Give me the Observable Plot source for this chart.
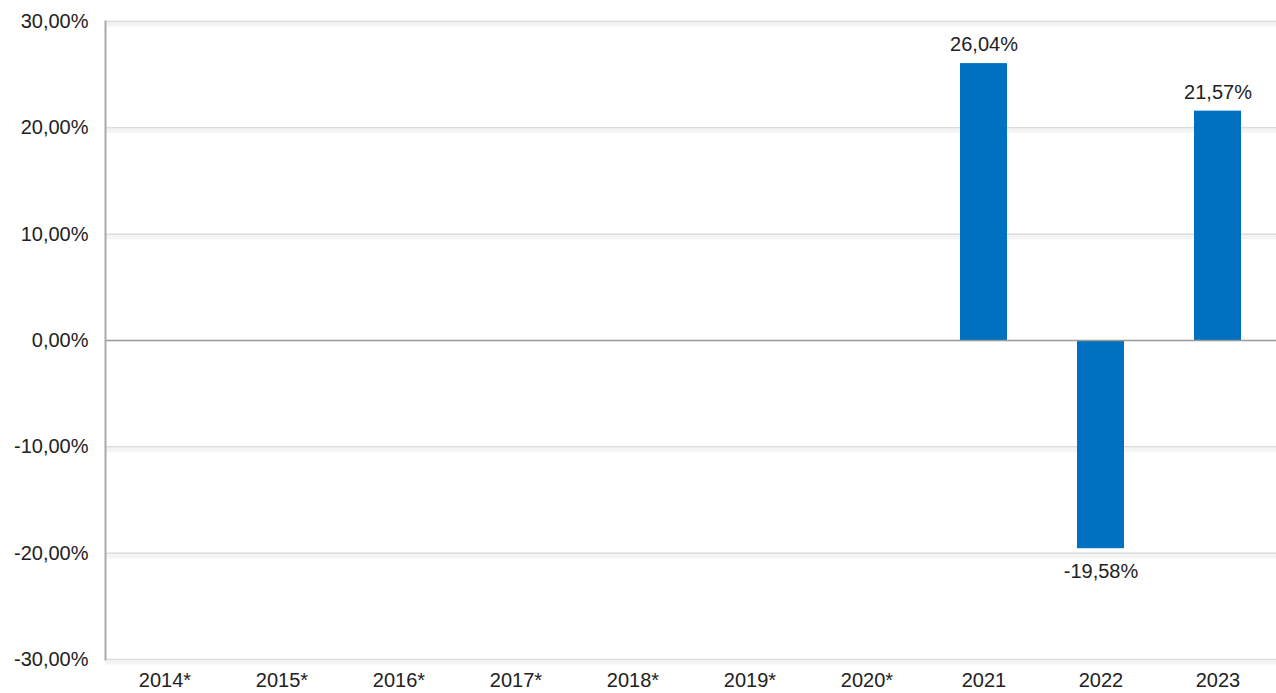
<!DOCTYPE html>
<html><head><meta charset="utf-8">
<script src="https://cdn.jsdelivr.net/npm/d3@7"></script>
<script src="https://cdn.jsdelivr.net/npm/@observablehq/plot@0.6"></script>
<style>
html,body{margin:0;padding:0;background:#fff;}
svg{display:block;font-family:"Liberation Sans",Arial,sans-serif;}
</style>
</head><body>
<div id="chart"></div>
<script>
const years = ["2014*","2015*","2016*","2017*","2018*","2019*","2020*","2021","2022","2023"];
const returns = [null,null,null,null,null,null,null,26.04,-19.58,21.57];
const yTicks = [-30,-20,-10,0,10,20,30];

const data = years.map((y,i)=>({year:y, value:returns[i]}));
const bars = data.filter(d=>d.value!=null);
const fmt = v => v.toFixed(2).replace(".", ",") + "%";

const chart = Plot.plot({
  width:1276, height:693,
  marginLeft:105, marginRight:0, marginTop:21, marginBottom:34,
  style:{fontFamily:"Liberation Sans, Arial, sans-serif", fontSize:"20px", color:"#222", background:"#fff"},
  x:{domain:years, paddingInner:0.6, paddingOuter:0.3, label:null, tickSize:0, tickPadding:13},
  y:{domain:[-30,30], ticks:yTicks, label:null, tickSize:0, tickPadding:17, tickFormat:fmt},
  marks:[
    Plot.ruleY(yTicks.filter(t=>t!==0), {stroke:"#f4f4f4", strokeWidth:4, dy:3}),
    Plot.ruleY(yTicks.filter(t=>t!==0), {stroke:"#dcdcdc", strokeWidth:1.5}),
    Plot.barY(bars, {x:"year", y:"value", fill:"#0070c0"}),
    Plot.ruleY([0], {stroke:"#999", strokeWidth:1.5}),
    Plot.frame({anchor:"left", stroke:"#aaa", strokeWidth:2}),
    Plot.text(bars.filter(d=>d.value>=0), {x:"year", y:"value", text:d=>fmt(d.value), dy:-19, fill:"#222", fontSize:20}),
    Plot.text(bars.filter(d=>d.value<0), {x:"year", y:"value", text:d=>fmt(d.value), dy:23, fill:"#222", fontSize:20})
  ]
});
document.getElementById("chart").appendChild(chart);
</script>
</body></html>
